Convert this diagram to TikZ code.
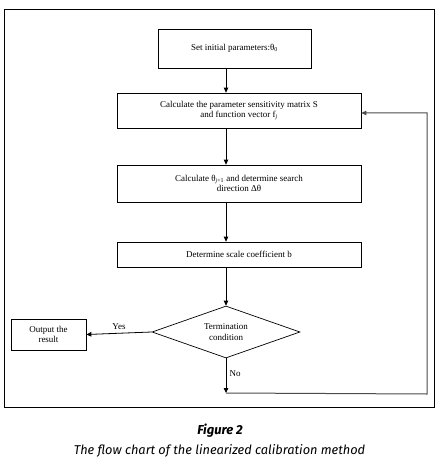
\documentclass[tikz,border=0pt]{standalone}
\usepackage{fontspec}
\setmainfont{Liberation Serif}
\newfontfamily\capfont{Fira Sans}
\usetikzlibrary{arrows.meta,shapes.geometric}
\begin{document}
\begin{tikzpicture}[x=1pt,y=-1pt,
  procbox/.style={draw,line width=0.7pt,inner sep=0pt,align=center,font=\fontsize{9}{10.5}\selectfont},
  flow/.style={line width=0.8pt,-{Triangle[length=5pt,width=4.5pt]}},
  loopline/.style={line width=1pt,draw=black!70,-{Triangle[length=5pt,width=4.5pt]}},
  lab/.style={font=\fontsize{9}{10.5}\selectfont}]
\useasboundingbox (0,0) rectangle (447,470);
\fill[white] (0,0) rectangle (447,470);
\draw[line width=0.8pt] (4,9) rectangle (434,407);
\node[procbox,minimum width=153pt,minimum height=39pt] (s1) at (234.5,48.5) {Set initial parameters:θ\textsubscript{0}};
\node[procbox,minimum width=244pt,minimum height=35pt] (s2) at (239,110.5) {Calculate the parameter sensitivity matrix S\\and function vector f\textsubscript{\textit{j}}};
\node[procbox,minimum width=244pt,minimum height=37pt] (s3) at (239,183.5) {Calculate θ\textsubscript{\textit{j}+1} and determine search\\direction Δθ};
\node[procbox,minimum width=244pt,minimum height=25pt] (s4) at (239,254.5) {Determine scale coefficient b};
\node[draw,line width=0.7pt,diamond,aspect=2.85,inner sep=0pt,minimum width=148pt,minimum height=52pt,align=center,font=\fontsize{9}{10.5}\selectfont] (d) at (226,332) {Termination\\condition};
\node[procbox,minimum width=75pt,minimum height=31pt] (out) at (48.5,334.5) {Output the\\result};
\coordinate (e) at (226,393);
\coordinate (r1) at (427,394);
\coordinate (r2) at (427,113);
\draw[flow] (s1.south -| 226,0) -- (s2.north -| 226,0);
\draw[flow] (s2.south -| 226,0) -- (s3.north -| 226,0);
\draw[flow] (s3.south -| 226,0) -- (s4.north -| 226,0);
\draw[flow] (s4.south -| 226,0) -- (d.north);
\draw[flow] (d.west) -- node[lab,above,pos=0.5] {Yes} (out.east);
\draw[flow] (d.south) -- node[lab,right,pos=0.45] {No} (e);
\draw[loopline] (e) -- (r1) -- (r2) -- (s2.east |- r2);
\node[font=\capfont\bfseries\itshape\fontsize{13}{15}\selectfont] (fig) at (220,431) {Figure 2};
\node[font=\capfont\itshape\fontsize{12.8}{15}\selectfont] (cap) at (219.5,451) {The flow chart of the linearized calibration method};
\end{tikzpicture}
\end{document}
